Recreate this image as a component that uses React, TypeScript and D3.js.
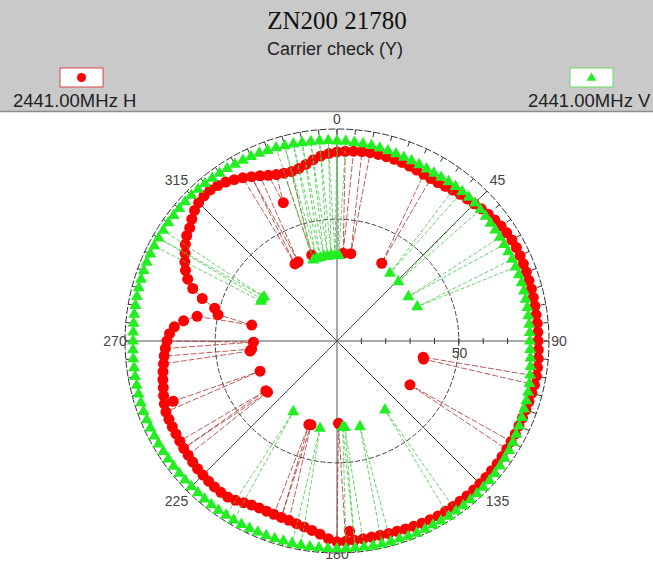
import { useEffect, useRef } from 'react'
import * as d3 from 'd3'

// Chart text
const TITLE = 'ZN200 21780'
const SUBTITLE = 'Carrier check (Y)'
const SERIES_NAMES = ['2441.00MHz H', '2441.00MHz V']
const ANGLE_LABELS = [0, 45, 90, 135, 180, 225, 270, 315]
const RADIAL_TICKS = [10, 20, 30, 40, 50, 60, 70, 80]
const RADIAL_LABEL = 50
const RADIAL_MAX = 87

// One reading every ANGLE_STEP degrees, starting at 0
const ANGLE_STEP = 2.5

// H polarisation (red), 0 .. 357.5 deg
const hValues = [
    77.6, 77.9, 78.2, 78.4, 78.5, 78.4, 78.3, 78.2, 78.0, 77.7, 77.4, 77.1,
    77.0, 77.1, 77.5, 78.0, 78.6, 79.1, 79.6, 80.3, 81.0, 81.6, 82.2, 82.6,
    82.9, 83.0, 82.9, 82.8, 82.7, 82.6, 82.6, 82.5, 82.5, 82.4, 82.5, 82.5,
    82.5, 82.7, 82.9, 83.0, 83.1, 83.0, 82.8, 82.6, 82.5, 82.4, 82.4, 82.5,
    82.5, 82.6, 82.7, 82.8, 82.8, 82.9, 82.9, 83.0, 83.0, 82.9, 82.9, 82.9,
    82.9, 82.7, 82.5, 82.3, 82.1, 81.9, 81.8, 81.7, 81.7, 81.9, 82.1, 82.3,
    82.4, 81.2, 79.6, 78.4, 77.5, 76.8, 76.2, 75.9, 75.7, 75.6, 75.6, 75.9,
    76.6, 77.5, 78.2, 78.3, 78.2, 78.0, 77.8, 77.6, 77.3, 77.0, 76.8, 76.5,
    76.3, 76.2, 76.1, 76.0, 75.4, 74.6, 73.8, 73.2, 72.5, 71.8, 71.2, 70.5,
    69.8, 68.8, 67.0, 63.5, 58.3, 50.0, 52.0, 58.0, 63.0, 66.3, 68.6, 70.4,
    72.0, 73.8, 75.3, 76.2, 77.8, 79.3, 80.3, 80.8, 80.9, 80.4, 79.6, 78.5,
    77.3, 76.0, 74.8, 73.6, 72.7, 72.2, 72.0, 72.5, 73.6, 75.0, 76.2, 77.0,
]

// V polarisation (green), 0 .. 357.5 deg
const vValues = [
    82.1, 82.0, 81.8, 81.6, 81.4, 81.1, 80.8, 80.5, 80.2, 80.0, 79.8, 79.6,
    79.5, 79.6, 79.8, 79.9, 80.0, 80.0, 80.0, 79.8, 79.6, 79.4, 79.3, 79.2,
    79.2, 79.2, 79.3, 79.3, 79.4, 79.4, 79.4, 79.3, 79.3, 79.2, 79.2, 79.2,
    79.2, 79.4, 79.7, 80.1, 80.5, 80.9, 81.2, 81.5, 81.7, 82.1, 82.5, 82.9,
    83.3, 83.7, 84.0, 84.3, 84.6, 84.8, 84.9, 85.0, 85.1, 85.2, 85.2, 85.3,
    85.3, 85.2, 85.3, 85.4, 85.3, 85.2, 85.3, 85.3, 85.4, 85.3, 85.2, 85.3,
    85.3, 85.3, 85.2, 85.2, 85.1, 85.1, 85.0, 85.0, 85.0, 84.9, 84.9, 84.9,
    84.9, 84.8, 84.8, 84.7, 84.6, 84.5, 84.5, 84.5, 84.5, 84.5, 84.5, 84.5,
    84.5, 84.5, 84.5, 84.5, 84.5, 84.4, 84.3, 84.2, 84.1, 84.0, 83.9, 83.8,
    83.7, 83.7, 83.8, 83.9, 84.0, 84.1, 84.2, 84.3, 84.4, 84.5, 84.5, 84.5,
    84.5, 84.5, 84.5, 84.5, 84.5, 84.5, 84.5, 84.4, 84.3, 84.1, 84.0, 83.9,
    83.7, 83.6, 83.5, 83.4, 83.2, 83.1, 82.9, 82.8, 82.6, 82.5, 82.4, 82.3,
]

// Dropped readings [angle, value] that fall between the regular ones
const hDrops: [number, number][] = [
    [4.0, 36.1], [9.0, 36.3], [29.9, 36.8], [100.6, 36.0], [101.8, 36.3],
    [121.0, 34.9], [176.2, 78.2], [179.0, 33.8], [197.2, 36.0], [198.6, 36.2],
    [233.6, 35.4], [235.1, 35.6], [248.6, 33.9], [249.8, 71.6], [263.4, 35.9],
    [264.6, 35.2], [269.2, 34.3], [280.6, 35.6], [331.4, 36.0], [333.9, 36.2],
    [338.8, 60.9], [343.6, 36.8],
]
const vDrops: [number, number][] = [
    [343.7, 34.6], [346.2, 35.0], [348.7, 34.8], [351.2, 35.2], [353.7, 34.9],
    [356.2, 35.3], [358.7, 35.0], [1.2, 35.1], [38.0, 35.3], [46.0, 35.0],
    [58.2, 34.5], [66.9, 35.8], [145.2, 34.5], [165.0, 36.4], [174.8, 35.7],
    [176.2, 35.5], [191.0, 36.5], [211.7, 34.1], [297.6, 35.2], [299.2, 35.4],
    [301.2, 35.0],
]

interface Pt {
    angle: number
    value: number
}

function buildSeries(values: number[], drops: [number, number][]): Pt[] {
    const pts = values.map((v, i) => ({ angle: i * ANGLE_STEP, value: v }))
    drops.forEach(([a, v]) => pts.push({ angle: a, value: v }))
    return pts.sort((a, b) => a.angle - b.angle)
}

const RED = '#ff0000'
const GREEN = '#22ee22'
const SANS = 'Liberation Sans, Arial, sans-serif'

export default function App() {
    const svgRef = useRef<SVGSVGElement>(null)

    useEffect(() => {
        if (!svgRef.current) return
        const svg = d3.select(svgRef.current)
        svg.selectAll('*').remove()

        const width = 653
        const height = 565
        svg.attr('width', width).attr('height', height)

        // Header band
        svg.append('rect')
            .attr('x', 0).attr('y', 0)
            .attr('width', width).attr('height', 111)
            .attr('fill', '#c9c9c9')
        svg.append('line')
            .attr('x1', 0).attr('x2', width)
            .attr('y1', 111.5).attr('y2', 111.5)
            .attr('stroke', '#8c8c8c')
            .attr('stroke-width', 1.5)

        svg.append('text')
            .attr('x', 337).attr('y', 29)
            .attr('text-anchor', 'middle')
            .style('font-family', 'Liberation Serif, Times New Roman, serif')
            .style('font-size', '25px')
            .attr('fill', '#111')
            .text(TITLE)

        svg.append('text')
            .attr('x', 335).attr('y', 55)
            .attr('text-anchor', 'middle')
            .style('font-family', SANS)
            .style('font-size', '18px')
            .attr('fill', '#222')
            .text(SUBTITLE)

        // Legend
        const legend = [
            { x: 60, text: 13, color: RED, stroke: '#d84848', name: SERIES_NAMES[0], shape: 'circle' },
            { x: 570, text: 528, color: GREEN, stroke: '#66dd66', name: SERIES_NAMES[1], shape: 'triangle' },
        ]
        legend.forEach(l => {
            svg.append('rect')
                .attr('x', l.x).attr('y', 68)
                .attr('width', 43).attr('height', 19)
                .attr('fill', '#fff')
                .attr('stroke', l.stroke)
                .attr('stroke-width', 1)
            if (l.shape === 'circle') {
                svg.append('circle')
                    .attr('cx', l.x + 21.5).attr('cy', 77.5)
                    .attr('r', 4.5)
                    .attr('fill', l.color)
            } else {
                svg.append('path')
                    .attr('d', d3.symbol(d3.symbolTriangle, 40)()!)
                    .attr('transform', `translate(${l.x + 21.5},78)`)
                    .attr('fill', l.color)
            }
            svg.append('text')
                .attr('x', l.text).attr('y', 107)
                .style('font-family', SANS)
                .style('font-size', '18.5px')
                .attr('fill', '#222')
                .text(l.name)
        })

        // Polar plot
        const cx = 337
        const cy = 341
        const outerR = 212
        const rScale = d3.scaleLinear().domain([0, RADIAL_MAX]).range([0, outerR])
        const rad = (deg: number) => (deg * Math.PI) / 180
        const px = (deg: number, rr: number) => rr * Math.sin(rad(deg))
        const py = (deg: number, rr: number) => -rr * Math.cos(rad(deg))

        const g = svg.append('g').attr('transform', `translate(${cx},${cy})`)

        // spokes
        ANGLE_LABELS.forEach(a => {
            g.append('line')
                .attr('x1', 0).attr('y1', 0)
                .attr('x2', px(a, outerR)).attr('y2', py(a, outerR))
                .attr('stroke', '#555')
                .attr('stroke-width', 1)
        })

        // outer ring with 5 degree ticks
        g.append('circle')
            .attr('r', outerR)
            .attr('fill', 'none')
            .attr('stroke', '#333')
            .attr('stroke-width', 1)
            .attr('stroke-dasharray', '7,2')
        d3.range(0, 360, 5).forEach(a => {
            g.append('line')
                .attr('x1', px(a, outerR)).attr('y1', py(a, outerR))
                .attr('x2', px(a, outerR - 5)).attr('y2', py(a, outerR - 5))
                .attr('stroke', '#333')
                .attr('stroke-width', 1)
        })

        // inner ring
        g.append('circle')
            .attr('r', rScale(RADIAL_LABEL))
            .attr('fill', 'none')
            .attr('stroke', '#444')
            .attr('stroke-width', 1)
            .attr('stroke-dasharray', '5,2')

        // ticks along the 90 deg axis
        RADIAL_TICKS.forEach(t => {
            g.append('line')
                .attr('x1', rScale(t)).attr('x2', rScale(t))
                .attr('y1', -3).attr('y2', 3)
                .attr('stroke', '#333')
        })

        g.append('text')
            .attr('x', rScale(RADIAL_LABEL) - 7).attr('y', 17)
            .style('font-family', SANS)
            .style('font-size', '14px')
            .attr('fill', '#444')
            .text(RADIAL_LABEL)

        ANGLE_LABELS.forEach(a => {
            const lr = a === 180 ? 213 : a % 90 === 0 ? 222 : 227
            g.append('text')
                .attr('x', px(a, lr)).attr('y', py(a, lr))
                .attr('dy', '0.35em')
                .attr('text-anchor', 'middle')
                .style('font-family', SANS)
                .style('font-size', '14px')
                .attr('fill', '#444')
                .text(a)
        })

        const line = d3.lineRadial<Pt>()
            .angle(d => rad(d.angle))
            .radius(d => rScale(d.value))
            .curve(d3.curveLinearClosed)

        const hSeries = buildSeries(hValues, hDrops)
        const vSeries = buildSeries(vValues, vDrops)

        // H series
        g.append('path')
            .attr('d', line(hSeries)!)
            .attr('fill', 'none')
            .attr('stroke', '#a8332e')
            .attr('stroke-width', 0.8)
            .attr('stroke-dasharray', '6,2')
        g.selectAll('.h-pt')
            .data(hSeries)
            .enter()
            .append('circle')
            .attr('class', 'h-pt')
            .attr('cx', d => px(d.angle, rScale(d.value)))
            .attr('cy', d => py(d.angle, rScale(d.value)))
            .attr('r', 5.5)
            .attr('fill', RED)

        // V series
        g.append('path')
            .attr('d', line(vSeries)!)
            .attr('fill', 'none')
            .attr('stroke', '#3fc93f')
            .attr('stroke-width', 0.8)
            .attr('stroke-dasharray', '4,2')
        const tri = d3.symbol(d3.symbolTriangle, 62)()!
        g.selectAll('.v-pt')
            .data(vSeries)
            .enter()
            .append('path')
            .attr('class', 'v-pt')
            .attr('d', tri)
            .attr('transform', d => `translate(${px(d.angle, rScale(d.value))},${py(d.angle, rScale(d.value))})`)
            .attr('fill', GREEN)
    }, [])

    return (
        <div style={{ position: 'absolute', left: 0, top: 0, background: '#fff' }}>
            <svg ref={svgRef}></svg>
        </div>
    )
}
